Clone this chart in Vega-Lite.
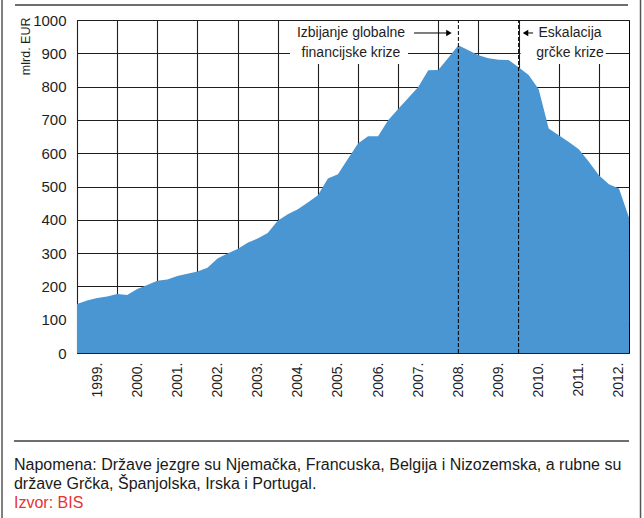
{
  "$schema": "https://vega.github.io/schema/vega-lite/v6.json",
  "width": 552,
  "height": 333,
  "autosize": {"type": "none"},
  "padding": {"left": 77, "top": 20, "right": 15, "bottom": 165},
  "background": "#ffffff",
  "config": {
    "view": {"stroke": "#000000", "strokeWidth": 1},
    "font": "Liberation Sans, Arial, sans-serif"
  },
  "resolve": {"axis": {"x": "independent", "y": "independent"}},
  "datasets": {
    "series": [
      {"year": 1999.00, "value": 147}, {"year": 1999.25, "value": 158}, {"year": 1999.50, "value": 165}, {"year": 1999.75, "value": 170},
      {"year": 2000.00, "value": 177}, {"year": 2000.25, "value": 174}, {"year": 2000.50, "value": 192}, {"year": 2000.75, "value": 204},
      {"year": 2001.00, "value": 217}, {"year": 2001.25, "value": 221}, {"year": 2001.50, "value": 231}, {"year": 2001.75, "value": 238},
      {"year": 2002.00, "value": 245}, {"year": 2002.25, "value": 256}, {"year": 2002.50, "value": 284}, {"year": 2002.75, "value": 299},
      {"year": 2003.00, "value": 312}, {"year": 2003.25, "value": 331}, {"year": 2003.50, "value": 344}, {"year": 2003.75, "value": 360},
      {"year": 2004.00, "value": 397}, {"year": 2004.25, "value": 417}, {"year": 2004.50, "value": 432}, {"year": 2004.75, "value": 452},
      {"year": 2005.00, "value": 474}, {"year": 2005.25, "value": 524}, {"year": 2005.50, "value": 537}, {"year": 2005.75, "value": 583},
      {"year": 2006.00, "value": 629}, {"year": 2006.25, "value": 651}, {"year": 2006.50, "value": 651}, {"year": 2006.75, "value": 699},
      {"year": 2007.00, "value": 733}, {"year": 2007.25, "value": 766}, {"year": 2007.50, "value": 799}, {"year": 2007.75, "value": 849},
      {"year": 2008.00, "value": 850}, {"year": 2008.25, "value": 887}, {"year": 2008.50, "value": 924}, {"year": 2008.75, "value": 909},
      {"year": 2009.00, "value": 894}, {"year": 2009.25, "value": 885}, {"year": 2009.50, "value": 881}, {"year": 2009.75, "value": 880},
      {"year": 2010.00, "value": 858}, {"year": 2010.25, "value": 835}, {"year": 2010.50, "value": 792}, {"year": 2010.75, "value": 674},
      {"year": 2011.00, "value": 654}, {"year": 2011.25, "value": 634}, {"year": 2011.50, "value": 612}, {"year": 2011.75, "value": 574},
      {"year": 2012.00, "value": 534}, {"year": 2012.25, "value": 507}, {"year": 2012.50, "value": 494}, {"year": 2012.75, "value": 407}
    ],
    "events": [
      {"year": 2008.5, "event": "Izbijanje globalne financijske krize"},
      {"year": 2010.0, "event": "Eskalacija grčke krize"}
    ],
    "one": [{}]
  },
  "layer": [
    {
      "data": {"name": "series"},
      "mark": {"type": "area", "color": "#4a96d3", "interpolate": "linear"},
      "encoding": {
        "x": {
          "field": "year", "type": "quantitative",
          "scale": {"domain": [1999, 2012.75], "nice": false, "zero": false},
          "axis": {
            "values": [1999, 2000, 2001, 2002, 2003, 2004, 2005, 2006, 2007, 2008, 2009, 2010, 2011, 2012],
            "labelExpr": "datum.value + '.'",
            "labelAngle": -90, "labelAlign": "right", "labelBaseline": "middle",
            "labelOffset": 20, "labelPadding": 9, "labelFontSize": 14, "labelColor": "#1e1e1e",
            "labelOverlap": false, "labelFlush": false, "labelBound": false,
            "ticks": false, "domain": false,
            "grid": true, "gridColor": "#1e1e1e", "gridWidth": 1.1, "gridOpacity": 1,
            "title": null
          }
        },
        "y": {
          "field": "value", "type": "quantitative",
          "scale": {"domain": [0, 1000], "nice": false},
          "axis": {
            "values": [0, 100, 200, 300, 400, 500, 600, 700, 800, 900, 1000],
            "format": "d",
            "ticks": false, "domain": false,
            "labelPadding": 11, "labelFontSize": 15, "labelColor": "#1e1e1e",
            "grid": true, "gridColor": "#1e1e1e", "gridWidth": 1.1, "gridOpacity": 1,
            "title": "mlrd. EUR", "titleFontSize": 12.5, "titleFontWeight": "normal", "titleColor": "#1e1e1e",
            "titleAngle": -90, "titleX": -52, "titleY": -3, "titleAlign": "right", "titleBaseline": "middle"
          }
        }
      }
    },
    {
      "data": {"name": "one"},
      "mark": {"type": "rect", "color": "#ffffff"},
      "encoding": {
        "x": {"datum": 2004.306, "type": "quantitative", "axis": null}, "x2": {"datum": 2007.245},
        "y": {"datum": 868, "type": "quantitative", "axis": null}, "y2": {"datum": 997}
      }
    },
    {
      "data": {"name": "one"},
      "mark": {"type": "rect", "color": "#ffffff"},
      "encoding": {
        "x": {"datum": 2010.05, "type": "quantitative", "axis": null}, "x2": {"datum": 2012.17},
        "y": {"datum": 868, "type": "quantitative", "axis": null}, "y2": {"datum": 997}
      }
    },
    {
      "data": {"name": "events"},
      "mark": {"type": "rule", "color": "#000000", "strokeWidth": 1, "strokeDash": [4, 2]},
      "encoding": {
        "x": {"field": "year", "type": "quantitative", "axis": null},
        "y": {"datum": 0, "type": "quantitative", "axis": null}, "y2": {"datum": 1000}
      }
    },
    {
      "data": {"name": "one"},
      "mark": {"type": "rule", "color": "#000000", "strokeWidth": 1},
      "encoding": {
        "x": {"datum": 2007.395, "type": "quantitative", "axis": null}, "x2": {"datum": 2008.25},
        "y": {"datum": 961, "type": "quantitative", "axis": null}
      }
    },
    {
      "data": {"name": "one"},
      "mark": {"type": "point", "shape": "triangle-right", "filled": true, "color": "#000000", "size": 40, "opacity": 1},
      "encoding": {
        "x": {"datum": 2008.265, "type": "quantitative", "axis": null},
        "y": {"datum": 961, "type": "quantitative", "axis": null}
      }
    },
    {
      "data": {"name": "one"},
      "mark": {"type": "rule", "color": "#000000", "strokeWidth": 1},
      "encoding": {
        "x": {"datum": 2010.17, "type": "quantitative", "axis": null}, "x2": {"datum": 2010.36},
        "y": {"datum": 961, "type": "quantitative", "axis": null}
      }
    },
    {
      "data": {"name": "one"},
      "mark": {"type": "point", "shape": "triangle-left", "filled": true, "color": "#000000", "size": 40, "opacity": 1},
      "encoding": {
        "x": {"datum": 2010.172, "type": "quantitative", "axis": null},
        "y": {"datum": 961, "type": "quantitative", "axis": null}
      }
    },
    {
      "data": {"name": "one"},
      "mark": {"type": "text", "fontSize": 14, "color": "#1e1e1e", "align": "center", "baseline": "middle"},
      "encoding": {
        "x": {"datum": 2005.825, "type": "quantitative", "axis": null},
        "y": {"datum": 961, "type": "quantitative", "axis": null},
        "text": {"value": "Izbijanje globalne"}
      }
    },
    {
      "data": {"name": "one"},
      "mark": {"type": "text", "fontSize": 14, "color": "#1e1e1e", "align": "center", "baseline": "middle"},
      "encoding": {
        "x": {"datum": 2005.825, "type": "quantitative", "axis": null},
        "y": {"datum": 901, "type": "quantitative", "axis": null},
        "text": {"value": "financijske krize"}
      }
    },
    {
      "data": {"name": "one"},
      "mark": {"type": "text", "fontSize": 14, "color": "#1e1e1e", "align": "center", "baseline": "middle"},
      "encoding": {
        "x": {"datum": 2011.281, "type": "quantitative", "axis": null},
        "y": {"datum": 961, "type": "quantitative", "axis": null},
        "text": {"value": "Eskalacija"}
      }
    },
    {
      "data": {"name": "one"},
      "mark": {"type": "text", "fontSize": 14, "color": "#1e1e1e", "align": "center", "baseline": "middle"},
      "encoding": {
        "x": {"datum": 2011.281, "type": "quantitative", "axis": null},
        "y": {"datum": 901, "type": "quantitative", "axis": null},
        "text": {"value": "grčke krize"}
      }
    },
    {
      "data": {"name": "one"},
      "mark": {"type": "rule", "color": "#6e6e6e", "strokeWidth": 2},
      "encoding": {
        "x": {"datum": 1997.456, "type": "quantitative", "axis": null}, "x2": {"datum": 2012.725},
        "y": {"datum": 1045, "type": "quantitative", "axis": null}
      }
    },
    {
      "data": {"name": "one"},
      "mark": {"type": "rule", "color": "#6e6e6e", "strokeWidth": 2},
      "encoding": {
        "x": {"datum": 1997.43, "type": "quantitative", "axis": null}, "x2": {"datum": 2012.75},
        "y": {"datum": -264, "type": "quantitative", "axis": null}
      }
    },
    {
      "data": {"name": "one"},
      "mark": {"type": "rule", "color": "#555555", "strokeWidth": 1.5},
      "encoding": {
        "x": {"datum": 1997.132, "type": "quantitative", "axis": null},
        "y": {"datum": 1070, "type": "quantitative", "axis": null}, "y2": {"datum": -500}
      }
    },
    {
      "data": {"name": "one"},
      "mark": {"type": "rule", "color": "#555555", "strokeWidth": 1.5},
      "encoding": {
        "x": {"datum": 2013.037, "type": "quantitative", "axis": null},
        "y": {"datum": 1070, "type": "quantitative", "axis": null}, "y2": {"datum": -500}
      }
    },
    {
      "data": {"name": "one"},
      "mark": {"type": "text", "fontSize": 16, "color": "#1a1a1a", "align": "left", "baseline": "middle"},
      "encoding": {
        "x": {"datum": 1997.43, "type": "quantitative", "axis": null},
        "y": {"datum": -336, "type": "quantitative", "axis": null},
        "text": {"value": "Napomena: Države jezgre su Njemačka, Francuska, Belgija i Nizozemska, a rubne su"}
      }
    },
    {
      "data": {"name": "one"},
      "mark": {"type": "text", "fontSize": 16, "color": "#1a1a1a", "align": "left", "baseline": "middle"},
      "encoding": {
        "x": {"datum": 1997.43, "type": "quantitative", "axis": null},
        "y": {"datum": -393, "type": "quantitative", "axis": null},
        "text": {"value": "države Grčka, Španjolska, Irska i Portugal."}
      }
    },
    {
      "data": {"name": "one"},
      "mark": {"type": "text", "fontSize": 16, "color": "#e8332f", "align": "left", "baseline": "middle"},
      "encoding": {
        "x": {"datum": 1997.43, "type": "quantitative", "axis": null},
        "y": {"datum": -450, "type": "quantitative", "axis": null},
        "text": {"value": "Izvor: BIS"}
      }
    }
  ]
}
